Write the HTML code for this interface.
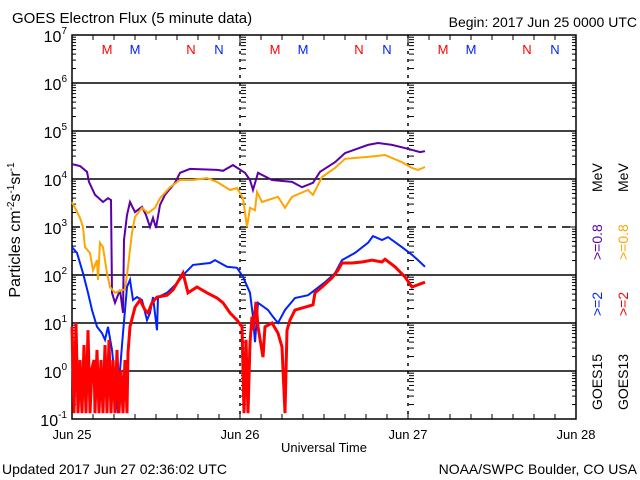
<!DOCTYPE html>
<html><head><meta charset="utf-8">
<style>
body{margin:0;background:#fff;width:640px;height:480px;overflow:hidden;font-family:"Liberation Sans",sans-serif}
svg{display:block}
text{font-family:"Liberation Sans",sans-serif}
</style></head>
<body>
<svg id="chart" width="640" height="480" viewBox="0 0 640 480" xmlns="http://www.w3.org/2000/svg">
<rect x="0" y="0" width="640" height="480" fill="#fff"/>
<text x="12" y="23" font-size="15">GOES Electron Flux (5 minute data)</text>
<text x="637" y="27" font-size="14" text-anchor="end">Begin: 2017 Jun 25 0000 UTC</text>
<text transform="translate(20,230) rotate(-90)" font-size="16" text-anchor="middle">Particles cm<tspan dy="-6" font-size="10">-2</tspan><tspan dy="6">s</tspan><tspan dy="-6" font-size="10">-1</tspan><tspan dy="6">sr</tspan><tspan dy="-6" font-size="10">-1</tspan></text>
<text x="324" y="452" font-size="13" text-anchor="middle">Universal Time</text>
<text x="2" y="474" font-size="14">Updated 2017 Jun 27 02:36:02 UTC</text>
<text x="637" y="474" font-size="14" text-anchor="end">NOAA/SWPC Boulder, CO USA</text>
<g font-size="14">
<text transform="translate(602,410) rotate(-90)">GOES15</text>
<text fill="#0022ff" transform="translate(602,316) rotate(-90)">&gt;=2</text>
<text fill="#5a00a8" transform="translate(602,260) rotate(-90)">&gt;=0.8</text>
<text transform="translate(602,192) rotate(-90)">MeV</text>
<text transform="translate(628,410) rotate(-90)">GOES13</text>
<text fill="#ff0000" transform="translate(628,316) rotate(-90)">&gt;=2</text>
<text fill="#ffa500" transform="translate(628,260) rotate(-90)">&gt;=0.8</text>
<text transform="translate(628,192) rotate(-90)">MeV</text>
</g>
<g id="axes"></g>
<g id="series"></g>
</svg>
<script>
// data: hours since 2017 Jun 25 00:00 UTC, log10 flux
const purpleH=[0,1.14,2.14,2.43,3.29,4.43,5.14,5.57,5.71,6.14,6.86,7.29,7.43,7.86,8.29,9.0,10.0,10.57,11.14,11.57,12.0,12.57,13.29,14.71,15.43,16.86,20.71,21.57,23.0,24.71,25.43,25.86,26.57,28.57,31.43,32.86,34.43,35.43,37.57,39.0,42.29,43.71,45.71,48.0,49.71,50.43];
const purpleV=[4.31,4.27,4.15,3.94,3.67,3.52,3.60,3.56,1.63,1.42,1.69,1.21,2.73,3.25,3.52,3.31,3.42,3.25,3.0,3.19,2.98,3.46,3.67,3.92,4.13,4.21,4.19,4.17,4.29,4.13,3.98,3.77,4.13,3.98,3.94,3.83,3.92,4.15,4.35,4.54,4.71,4.75,4.71,4.63,4.56,4.58];
const orangeH=[0,1.14,1.57,1.86,2.57,3.0,3.57,3.71,4.0,4.43,5.0,5.43,6.14,7.14,7.57,8.0,8.57,9.0,10.0,10.86,11.86,12.57,14.0,15.43,17.29,19.29,20.71,22.57,23.57,24.43,25.0,25.43,26.14,26.43,27.14,29.43,30.43,31.43,33.71,34.43,35.71,37.57,39.0,42.29,44.71,47.14,48.57,49.43,50.43];
const orangeV=[3.52,3.19,3.0,2.58,2.46,2.10,2.31,1.90,2.67,2.58,2.04,1.75,1.63,1.69,1.69,2.17,2.88,3.21,3.40,3.29,3.40,3.60,3.83,3.98,3.98,4.02,3.94,3.77,3.81,3.60,3.0,3.40,3.35,3.73,3.52,3.63,3.40,3.63,3.77,3.67,4.04,4.23,4.42,4.46,4.50,4.35,4.23,4.19,4.25];
const blueH=[0,0.71,1.57,2.29,2.86,3.57,4.29,4.71,5.14,5.71,6.14,6.57,6.86,7.29,7.86,8.29,8.71,9.29,10.0,10.71,11.14,11.57,12.14,12.29,13.57,15.0,16.14,17.29,19.71,20.43,22.14,23.57,24.43,25.43,25.86,26.14,26.57,28.0,28.71,29.43,30.43,31.86,33.71,34.71,36.14,37.57,38.57,40.43,42.29,43.0,44.29,45.14,47.14,48.57,49.43,50.43];
const blueV=[2.58,2.46,2.04,1.63,1.27,0.92,0.79,0.65,0.92,0.44,-0.19,-0.88,0.02,0.79,1.75,1.90,1.48,1.54,1.48,1.06,1.21,1.54,0.85,1.54,1.63,1.83,2.04,2.21,2.25,2.31,2.17,2.15,1.96,1.63,1.13,0.60,1.42,1.27,1.13,1.0,1.27,1.52,1.58,1.69,1.85,2.04,2.31,2.46,2.67,2.81,2.73,2.79,2.58,2.42,2.31,2.17];
const redH=[0,0.29,0.57,0.86,1.14,1.43,1.71,2.0,2.29,2.57,2.86,3.14,3.29,3.57,3.86,4.14,4.43,4.71,5.0,5.29,5.57,5.86,6.14,6.43,6.71,7.0,7.29,7.57,7.86,8.0,8.29,9.0,9.71,10.43,10.86,11.43,12.14,13.57,14.43,15.86,16.57,17.86,19.29,20.71,21.57,22.57,23.57,24.29,24.57,24.86,25.14,25.43,25.71,25.86,26.29,26.57,27.29,27.57,28.57,29.43,30.0,30.43,30.71,31.14,31.86,33.29,34.43,34.71,35.71,37.14,38.0,38.57,40.0,41.43,42.86,44.29,44.71,46.14,47.57,48.57,49.29,50.43];
const redV=[0.92,-0.88,1.0,-0.88,0.23,-0.88,0.54,-0.88,0.85,-0.88,0.06,0.23,-0.88,0.44,-0.88,0.23,-0.88,0.54,-0.88,0.65,-0.88,0.23,-0.88,0.44,-0.88,0.02,-0.88,0.23,-0.88,0.38,0.92,1.33,1.48,1.27,1.21,1.42,1.54,1.58,1.69,2.04,1.63,1.75,1.63,1.52,1.42,1.21,1.06,0.92,-0.88,0.65,-0.88,0.58,1.13,0.85,1.44,0.92,0.29,0.92,1.0,0.79,0.5,-0.88,0.85,1.06,1.27,1.33,1.38,1.63,1.75,1.94,2.10,2.25,2.25,2.27,2.31,2.27,2.33,2.17,1.96,1.75,1.79,1.85];
const dayLabels=["Jun 25","Jun 26","Jun 27","Jun 28"];
const decades=[-1,0,1,2,3,4,5,6,7];
const markerLabels=["M","M","N","N"];
const markerHours=[5,9,17,21];

const NS="http://www.w3.org/2000/svg";
const L=72,R=576,T=35,B=419;
const xs=h=>L+h*(R-L)/72;
const ys=v=>B-(v+1)*(B-T)/8;
const axes=document.getElementById('axes');
const ser=document.getElementById('series');
function mk(tag,attrs,parent){const e=document.createElementNS(NS,tag);for(const k in attrs)e.setAttribute(k,attrs[k]);parent.appendChild(e);return e;}
function line(x1,y1,x2,y2,p,extra){const e=mk('line',{x1:x1,y1:y1,x2:x2,y2:y2,stroke:'#000','stroke-width':1},p);if(extra)for(const k in extra)e.setAttribute(k,extra[k]);return e;}

decades.forEach(d=>{
  const y=ys(d);
  if(d>-1&&d<7){
    const g=line(L,y,R,y,axes,{'stroke-width':1.5});
    if(d===3)g.setAttribute('stroke-dasharray','8,6');
    
    
  }
  const t=mk('text',{x:L-5,y:y+7,'font-size':16,'text-anchor':'end'},axes);
  
  
  t.innerHTML='10<tspan dy="-8" font-size="10">'+d+'</tspan>';
  if(d<7){for(let m=2;m<=9;m++){const yy=ys(d+Math.log10(m));
    line(L,yy,L+4,yy,axes);line(R-4,yy,R,yy,axes);
    line(241,yy,246,yy,axes);line(409,yy,414,yy,axes);}}
  line(L,y,L+8,y,axes);line(R-8,y,R,y,axes);
});
[240,408].forEach(x=>{const v=line(x,T,x,B,axes,{'stroke-dasharray':'3,5','stroke-width':1.5});
  
  });
for(let h=0;h<=72;h+=3){const x=xs(h);const len=(h%24===0)?8:5;line(x,B,x,B-len,axes);line(x,T,x,T+len,axes);}
dayLabels.forEach((s,i)=>{const t=mk('text',{x:xs(i*24),y:439,'font-size':13,'text-anchor':'middle'},axes);t.textContent=s;
  
  });
const fr=mk('rect',{x:L,y:T,width:R-L,height:B-T,fill:'none',stroke:'#000','stroke-width':1.5},axes);


for(let day=0;day<3;day++){markerHours.forEach((h,i)=>{
  const t=mk('text',{x:xs(day*24+h),y:54,'font-size':13,'text-anchor':'middle',fill:(i%2===0)?'#ff0000':'#0022ff'},axes);
  t.textContent=markerLabels[i];
  
  });}
function draw(H,V,color,name,w){
  let d='';H.forEach((h,i)=>{d+=(i?'L':'M')+xs(h).toFixed(1)+','+ys(V[i]).toFixed(1);});
  const p=mk('path',{d:d,fill:'none',stroke:color,'stroke-width':w,'stroke-linejoin':'miter'},ser);
  
  
}
draw(purpleH,purpleV,'#5a00a8','goes15-0.8mev-line',2);
draw(orangeH,orangeV,'#ffa500','goes13-0.8mev-line',2);
draw(blueH,blueV,'#0022ff','goes15-2mev-line',2);
draw(redH,redV,'#ff0000','goes13-2mev-line',3);
</script>
</body></html>
